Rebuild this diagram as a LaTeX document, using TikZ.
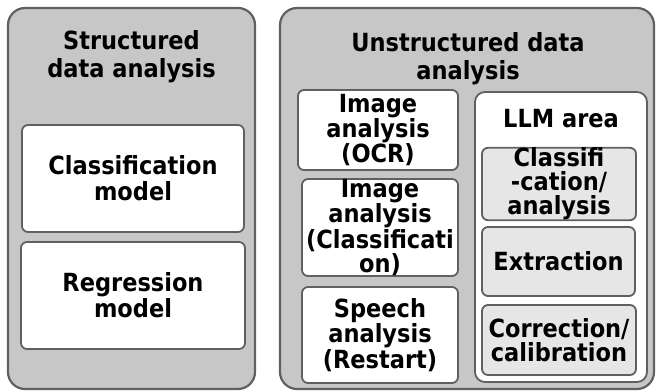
\documentclass[tikz,border=0pt]{standalone}
\usepackage{fontspec}
\setmainfont{DejaVu Sans}[FakeStretch=0.9]
\definecolor{panelgray}{RGB}{199,199,199}
\definecolor{subgray}{RGB}{230,230,230}
\definecolor{edgegray}{RGB}{96,96,96}
\newcommand{\titlefont}{\fontsize{25}{28}\selectfont\bfseries}
\newcommand{\cardfont}{\fontsize{25}{26}\selectfont\bfseries}
\newcommand{\tightfont}{\fontsize{25}{24}\selectfont\bfseries}
\begin{document}
\begin{tikzpicture}[x=1pt,y=-1pt,
  panel/.style={draw=edgegray, line width=2.2pt, fill=panelgray,
    rounded corners=17pt, inner sep=0pt, outer sep=0pt},
  card/.style={draw=edgegray, line width=1.8pt, fill=white,
    rounded corners=6pt, inner sep=0pt, outer sep=0pt, align=center, font=\cardfont},
  tightcard/.style={card, font=\tightfont},
  subcard/.style={tightcard, fill=subgray},
  llmbox/.style={card, rounded corners=10pt},
  heading/.style={inner sep=0pt, outer sep=0pt, align=center, font=\titlefont}]
\useasboundingbox (0,0) rectangle (656,391);

% two outer panels
\node[panel, minimum width=247pt, minimum height=381pt] (structured) at (131.5,198.5) {};
\node[panel, minimum width=374pt, minimum height=381pt] (unstructured) at (467,198.5) {};

% panel headings
\node[heading] (structuredTitle) at (131.5,57) {Structured\\data analysis};
\node[heading] (unstructuredTitle) at (468,59) {Unstructured data\\analysis};

% structured data models
\node[card, minimum width=222pt, minimum height=107pt] (classModel) at (133,178.5) {Classification\\model};
\node[card, minimum width=224pt, minimum height=107pt] (regModel) at (133,295.5) {Regression\\model};

% image and speech analysis
\node[tightcard, minimum width=160pt, minimum height=80pt] (ocr) at (378,130) {Image\\analysis\\(OCR)};
\node[tightcard, minimum width=156pt, minimum height=97pt] (imgClass) at (380,227.5) {Image\\analysis\\(Classificati\\on)};
\node[tightcard, minimum width=156pt, minimum height=96pt] (speech) at (380,335) {Speech\\analysis\\(Restart)};

% LLM area
\node[llmbox, minimum width=172pt, minimum height=290pt] (llm) at (561,237) {};
\node[heading, anchor=base] (llmTitle) at (561,127) {LLM area};
\node[subcard, minimum width=154pt, minimum height=70pt] (llmClass) at (559,184) {Classifi\\-cation/\\analysis};
\node[subcard, minimum width=153pt, minimum height=69pt] (llmExtract) at (558.5,261.5) {Extraction};
\node[subcard, minimum width=154pt, minimum height=70pt] (llmCorrect) at (559,340) {Correction/\\calibration};
\end{tikzpicture}
\end{document}
